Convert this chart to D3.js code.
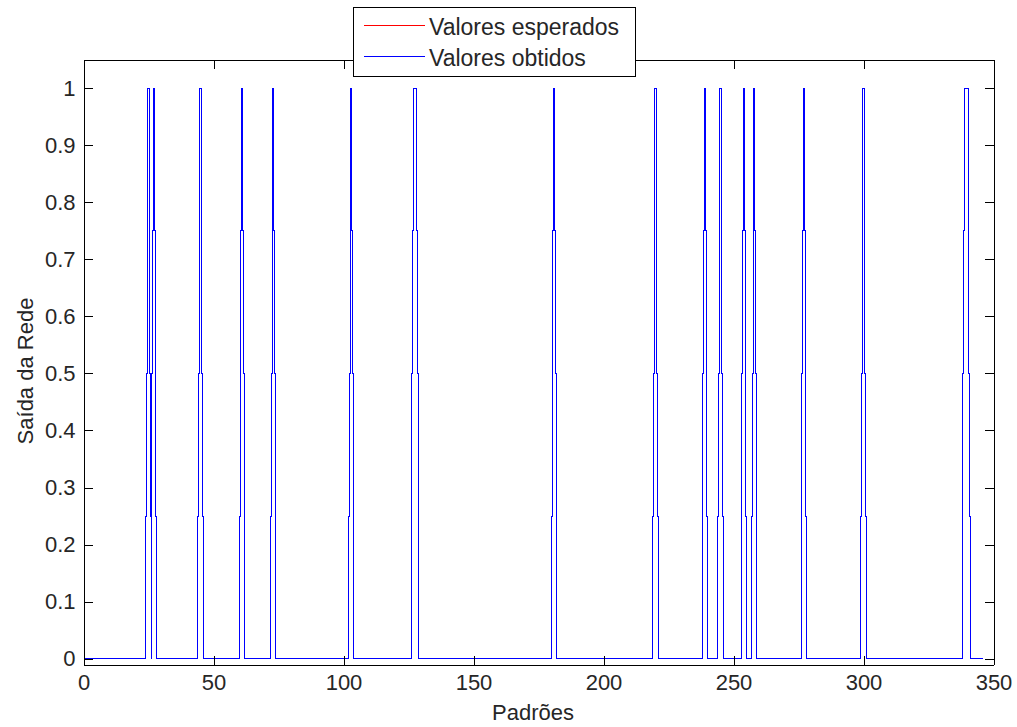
<!DOCTYPE html>
<html>
<head>
<meta charset="utf-8">
<script src="https://d3js.org/d3.v7.min.js"></script>
<style>
  body { margin: 0; background: #fff; }
  text { font-family: Arial, "Liberation Sans", Helvetica, sans-serif; }
</style>
</head>
<body>
<div id="chart"></div>
<script>

// padroes (x) e picos de saida (valor 1)
var padroes = d3.range(0, 347);
var picosEsperados = [25, 27, 45, 61, 73, 103, 127, 128, 181, 220, 239, 245, 254, 258, 277, 300, 339, 340];
var picosObtidos   = [25, 27, 45, 61, 73, 103, 127, 128, 181, 220, 239, 245, 254, 258, 277, 300, 339, 340];

var xTicks = [0, 50, 100, 150, 200, 250, 300, 350];
var yTicks = [0, 0.1, 0.2, 0.3, 0.4, 0.5, 0.6, 0.7, 0.8, 0.9, 1];
var legendas = ["Valores esperados", "Valores obtidos"];
var cores = ["#ff0000", "#0000ff"];

var esperados = padroes.map(function(p) { return picosEsperados.indexOf(p) >= 0 ? 1 : 0; });
var obtidos   = padroes.map(function(p) { return picosObtidos.indexOf(p) >= 0 ? 1 : 0; });

var width = 1017, height = 727;

var svg = d3.select("#chart")
  .append("svg")
    .attr("width", width)
    .attr("height", height);

var x = d3.scaleLinear()
  .domain([0, 350])
  .range([83.5, 993.5]);

var y = d3.scaleLinear()
  .domain([-0.01, 1.05])
  .range([664.5, 59.5]);

// curva em degraus de 1/4 entre pontos consecutivos
function curvaRampa(context) {
  var x0, y0, started;
  return {
    areaStart: function() {}, areaEnd: function() {},
    lineStart: function() { started = false; },
    lineEnd: function() {},
    point: function(px, py) {
      px = +px; py = +py;
      if (!started) {
        context.moveTo(px, py);
        started = true;
      } else if (py === y0) {
        context.lineTo(px, py);
      } else {
        var sobe = py < y0, yc = y0;
        for (var j = 1; j <= 4; j++) {
          var xj = x0 + (px - x0) * (sobe ? j - 1 : j) / 4;
          var yj = y0 + (py - y0) * j / 4;
          context.lineTo(xj, yc);
          context.lineTo(xj, yj);
          yc = yj;
        }
        context.lineTo(px, py);
      }
      x0 = px; y0 = py;
    }
  };
}

var linha = d3.line()
  .x(function(d, i) { return x(padroes[i]); })
  .y(function(d) { return y(d); })
  .curve(curvaRampa);

// series (a azul cobre a vermelha)
[esperados, obtidos].forEach(function(serie, i) {
  svg.append("path")
    .datum(serie)
    .attr("fill", "none")
    .attr("stroke", cores[i])
    .attr("stroke-width", 1)
    .attr("shape-rendering", "crispEdges")
    .attr("d", linha);
});

// eixos (estilo caixa com ticks para dentro)
function estiloEixo(g) {
  g.attr("font-size", null).attr("font-family", null);
  g.selectAll("path, line").attr("stroke", "#000").attr("stroke-width", 1)
    .attr("shape-rendering", "crispEdges");
  g.selectAll("text").attr("fill", "#262626").style("font-size", "22px");
}

svg.append("g")
  .attr("transform", "translate(0,664.5)")
  .call(d3.axisBottom(x).tickValues(xTicks).tickSizeInner(-9).tickSizeOuter(0).tickPadding(10))
  .call(estiloEixo);

svg.append("g")
  .attr("transform", "translate(0,59.5)")
  .call(d3.axisTop(x).tickValues(xTicks).tickSizeInner(-9).tickSizeOuter(0).tickFormat(""))
  .call(estiloEixo);

svg.append("g")
  .attr("transform", "translate(83.5,0)")
  .call(d3.axisLeft(y).tickValues(yTicks).tickSizeInner(-9).tickSizeOuter(0).tickPadding(8)
    .tickFormat(function(d) { return String(d); }))
  .call(estiloEixo);

svg.append("g")
  .attr("transform", "translate(993.5,0)")
  .call(d3.axisRight(y).tickValues(yTicks).tickSizeInner(-9).tickSizeOuter(0).tickFormat(""))
  .call(estiloEixo);

// rotulos dos eixos
svg.append("text")
  .attr("x", 533)
  .attr("y", 720)
  .attr("text-anchor", "middle")
  .attr("fill", "#262626")
  .style("font-size", "22px")
  .text("Padrões");

svg.append("text")
  .attr("transform", "translate(33,371) rotate(-90)")
  .attr("text-anchor", "middle")
  .attr("fill", "#262626")
  .style("font-size", "22px")
  .text("Saída da Rede");

// legenda
var leg = svg.append("g");
leg.append("rect")
  .attr("x", 353.5).attr("y", 7.5)
  .attr("width", 282).attr("height", 69)
  .attr("fill", "#fff")
  .attr("stroke", "#000")
  .attr("shape-rendering", "crispEdges");

legendas.forEach(function(nome, i) {
  var yy = 25.5 + i * 31;
  leg.append("line")
    .attr("x1", 364).attr("x2", 425)
    .attr("y1", yy).attr("y2", yy)
    .attr("stroke", cores[i])
    .attr("stroke-width", 1)
    .attr("shape-rendering", "crispEdges");
  leg.append("text")
    .attr("x", 429)
    .attr("y", 35 + i * 31)
    .attr("fill", "#262626")
    .style("font-size", "23px")
    .text(nome);
});

</script>
</body>
</html>
